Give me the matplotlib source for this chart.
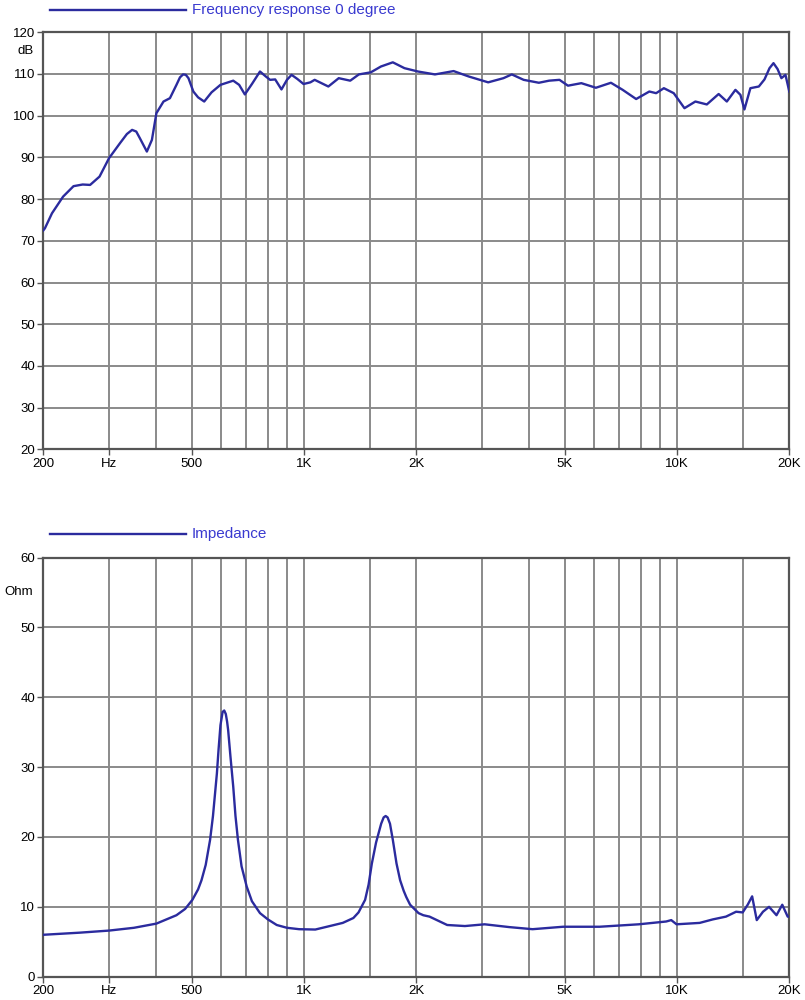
import matplotlib.pyplot as plt
from matplotlib.ticker import FixedLocator, NullFormatter

# frequency response 0 degree (Hz, dB)
spl_freq = [200, 202, 211, 226, 241, 255, 267, 283, 300, 321, 335, 346, 355, 363, 379,
            391, 402, 420, 437, 455, 465, 474, 482, 490, 505, 520, 540, 565, 597, 646,
            670, 694, 725, 762, 790, 811, 837, 870, 900, 926, 960, 997, 1040, 1068,
            1162, 1239, 1330, 1403, 1510, 1608, 1730, 1859, 2020, 2244, 2518, 2765,
            3117, 3425, 3606, 3880, 4262, 4540, 4840, 5100, 5540, 6060, 6650, 7150,
            7770, 8430, 8790, 9220, 9800, 10470, 11200, 12020, 12930, 13600, 14340,
            14790, 15160, 15730, 16570, 17160, 17700, 18140, 18600, 19050, 19530, 20000]
spl_db = [72.5, 73, 76.6, 80.6, 83.1, 83.5, 83.4, 85.4, 89.8, 93.4, 95.6, 96.6, 96.2,
          94.6, 91.4, 94.2, 100.6, 103.4, 104.2, 107.4, 109.2, 109.9, 109.8, 109, 105.8,
          104.4, 103.4, 105.6, 107.4, 108.4, 107.4, 105.1, 107.6, 110.6, 109.4, 108.6,
          108.7, 106.3, 108.6, 109.8, 108.8, 107.6, 108, 108.6, 107, 109, 108.4, 109.9,
          110.4, 111.8, 112.8, 111.4, 110.6, 109.9, 110.7, 109.4, 108, 109, 109.9, 108.6,
          107.9, 108.4, 108.6, 107.2, 107.8, 106.7, 107.9, 106.2, 104, 105.8, 105.4,
          106.6, 105.4, 101.8, 103.4, 102.7, 105.2, 103.4, 106.2, 105, 101.5, 106.6, 107,
          108.7, 111.4, 112.6, 111.2, 109, 109.8, 105.8]

# impedance (Hz, Ohm)
imp_freq = [200, 250, 300, 350, 402, 455, 480, 502, 520, 531, 545, 560, 570, 584, 590,
            597, 605, 611, 617, 622, 626, 635, 646, 655, 665, 680, 702, 725, 762, 800,
            845, 900, 970, 1072, 1183, 1270, 1356, 1400, 1458, 1490, 1520, 1560, 1610,
            1635, 1655, 1675, 1700, 1730, 1770, 1810, 1850, 1880, 1925, 2028, 2088,
            2170, 2420, 2700, 3050, 3550, 4100, 4950, 6200, 7900, 9350, 9650, 9970,
            11500, 12470, 13530, 14400, 15000, 15470, 15900, 16360, 17000, 17650, 18480,
            19150, 19800, 20000]
imp_ohm = [6.0, 6.3, 6.6, 7.0, 7.6, 8.8, 9.7, 11, 12.5, 13.8, 16, 19.6, 23, 29.1, 32.5,
           36, 37.9, 38.1, 37.6, 36.5, 35.3, 31.5, 27.2, 23, 19.6, 15.8, 12.9, 10.8, 9.1,
           8.2, 7.4, 7.0, 6.8, 6.75, 7.3, 7.7, 8.4, 9.2, 11, 13.2, 16.2, 19.2, 21.9,
           22.8, 23, 22.8, 21.9, 19.6, 16.2, 13.8, 12.3, 11.4, 10.3, 9.1, 8.8, 8.6, 7.4,
           7.25, 7.5, 7.1, 6.8, 7.15, 7.15, 7.5, 7.9, 8.1, 7.5, 7.7, 8.2, 8.6, 9.3, 9.2,
           10.3, 11.5, 8.1, 9.3, 10, 8.8, 10.3, 8.6, 8.6]

grid_freq = [300, 400, 500, 600, 700, 800, 900, 1000, 1500, 2000, 3000, 4000, 5000,
             6000, 7000, 8000, 9000, 10000, 15000]
label_freq = [200, 300, 500, 1000, 2000, 5000, 10000, 20000]
label_text = ['200', 'Hz', '500', '1K', '2K', '5K', '10K', '20K']

plt.rcParams['font.family'] = ['Liberation Sans', 'DejaVu Sans']
curve_color = '#2b2b9e'
text_color = '#3a3ad0'

fig = plt.figure(figsize=(8.05, 10), dpi=100)


def setup(ax, ymin, ymax, unit, unit_y):
    ax.set_xscale('log')
    ax.set_xlim(200, 20000)
    ax.set_ylim(ymin, ymax)
    ax.set_yticks(range(ymin, ymax + 1, 10))
    ax.xaxis.set_major_locator(FixedLocator(label_freq))
    ax.set_xticklabels(label_text)
    ax.xaxis.set_minor_locator(FixedLocator(grid_freq))
    ax.xaxis.set_minor_formatter(NullFormatter())
    ax.tick_params(axis='x', which='minor', length=0)
    ax.tick_params(axis='both', which='major', length=4, width=1, color='#555555',
                   labelsize=9.5, pad=2)
    for f in grid_freq:
        ax.axvline(f, color='#8a8a8a', lw=1.4, zorder=1)
    ax.yaxis.grid(True, color='#8a8a8a', lw=1.4, zorder=1)
    ax.set_axisbelow(True)
    for sp in ax.spines.values():
        sp.set_color('#555555')
        sp.set_linewidth(1.6)
    fig.text(unit_y[0], unit_y[1], unit, fontsize=9.5, ha='left', va='center')


ax1 = fig.add_axes([0.0538, 0.5507, 0.9267, 0.417])
setup(ax1, 20, 120, 'dB', (0.022, 0.949))
ax1.plot(spl_freq, spl_db, color=curve_color, lw=1.7, zorder=3)

ax2 = fig.add_axes([0.0538, 0.0233, 0.9267, 0.4192])
setup(ax2, 0, 60, 'Ohm', (0.005, 0.408))
ax2.plot(imp_freq, imp_ohm, color=curve_color, lw=1.7, zorder=3)

# legend-style titles
fig.add_artist(plt.Line2D([0.062, 0.231], [0.990, 0.990], color=curve_color, lw=1.7))
fig.text(0.238, 0.990, 'Frequency response 0 degree', color=text_color,
         fontsize=11, ha='left', va='center')
fig.add_artist(plt.Line2D([0.062, 0.231], [0.466, 0.466], color=curve_color, lw=1.7))
fig.text(0.238, 0.466, 'Impedance', color=text_color,
         fontsize=11, ha='left', va='center')

fig.savefig('out.png', dpi=100)
